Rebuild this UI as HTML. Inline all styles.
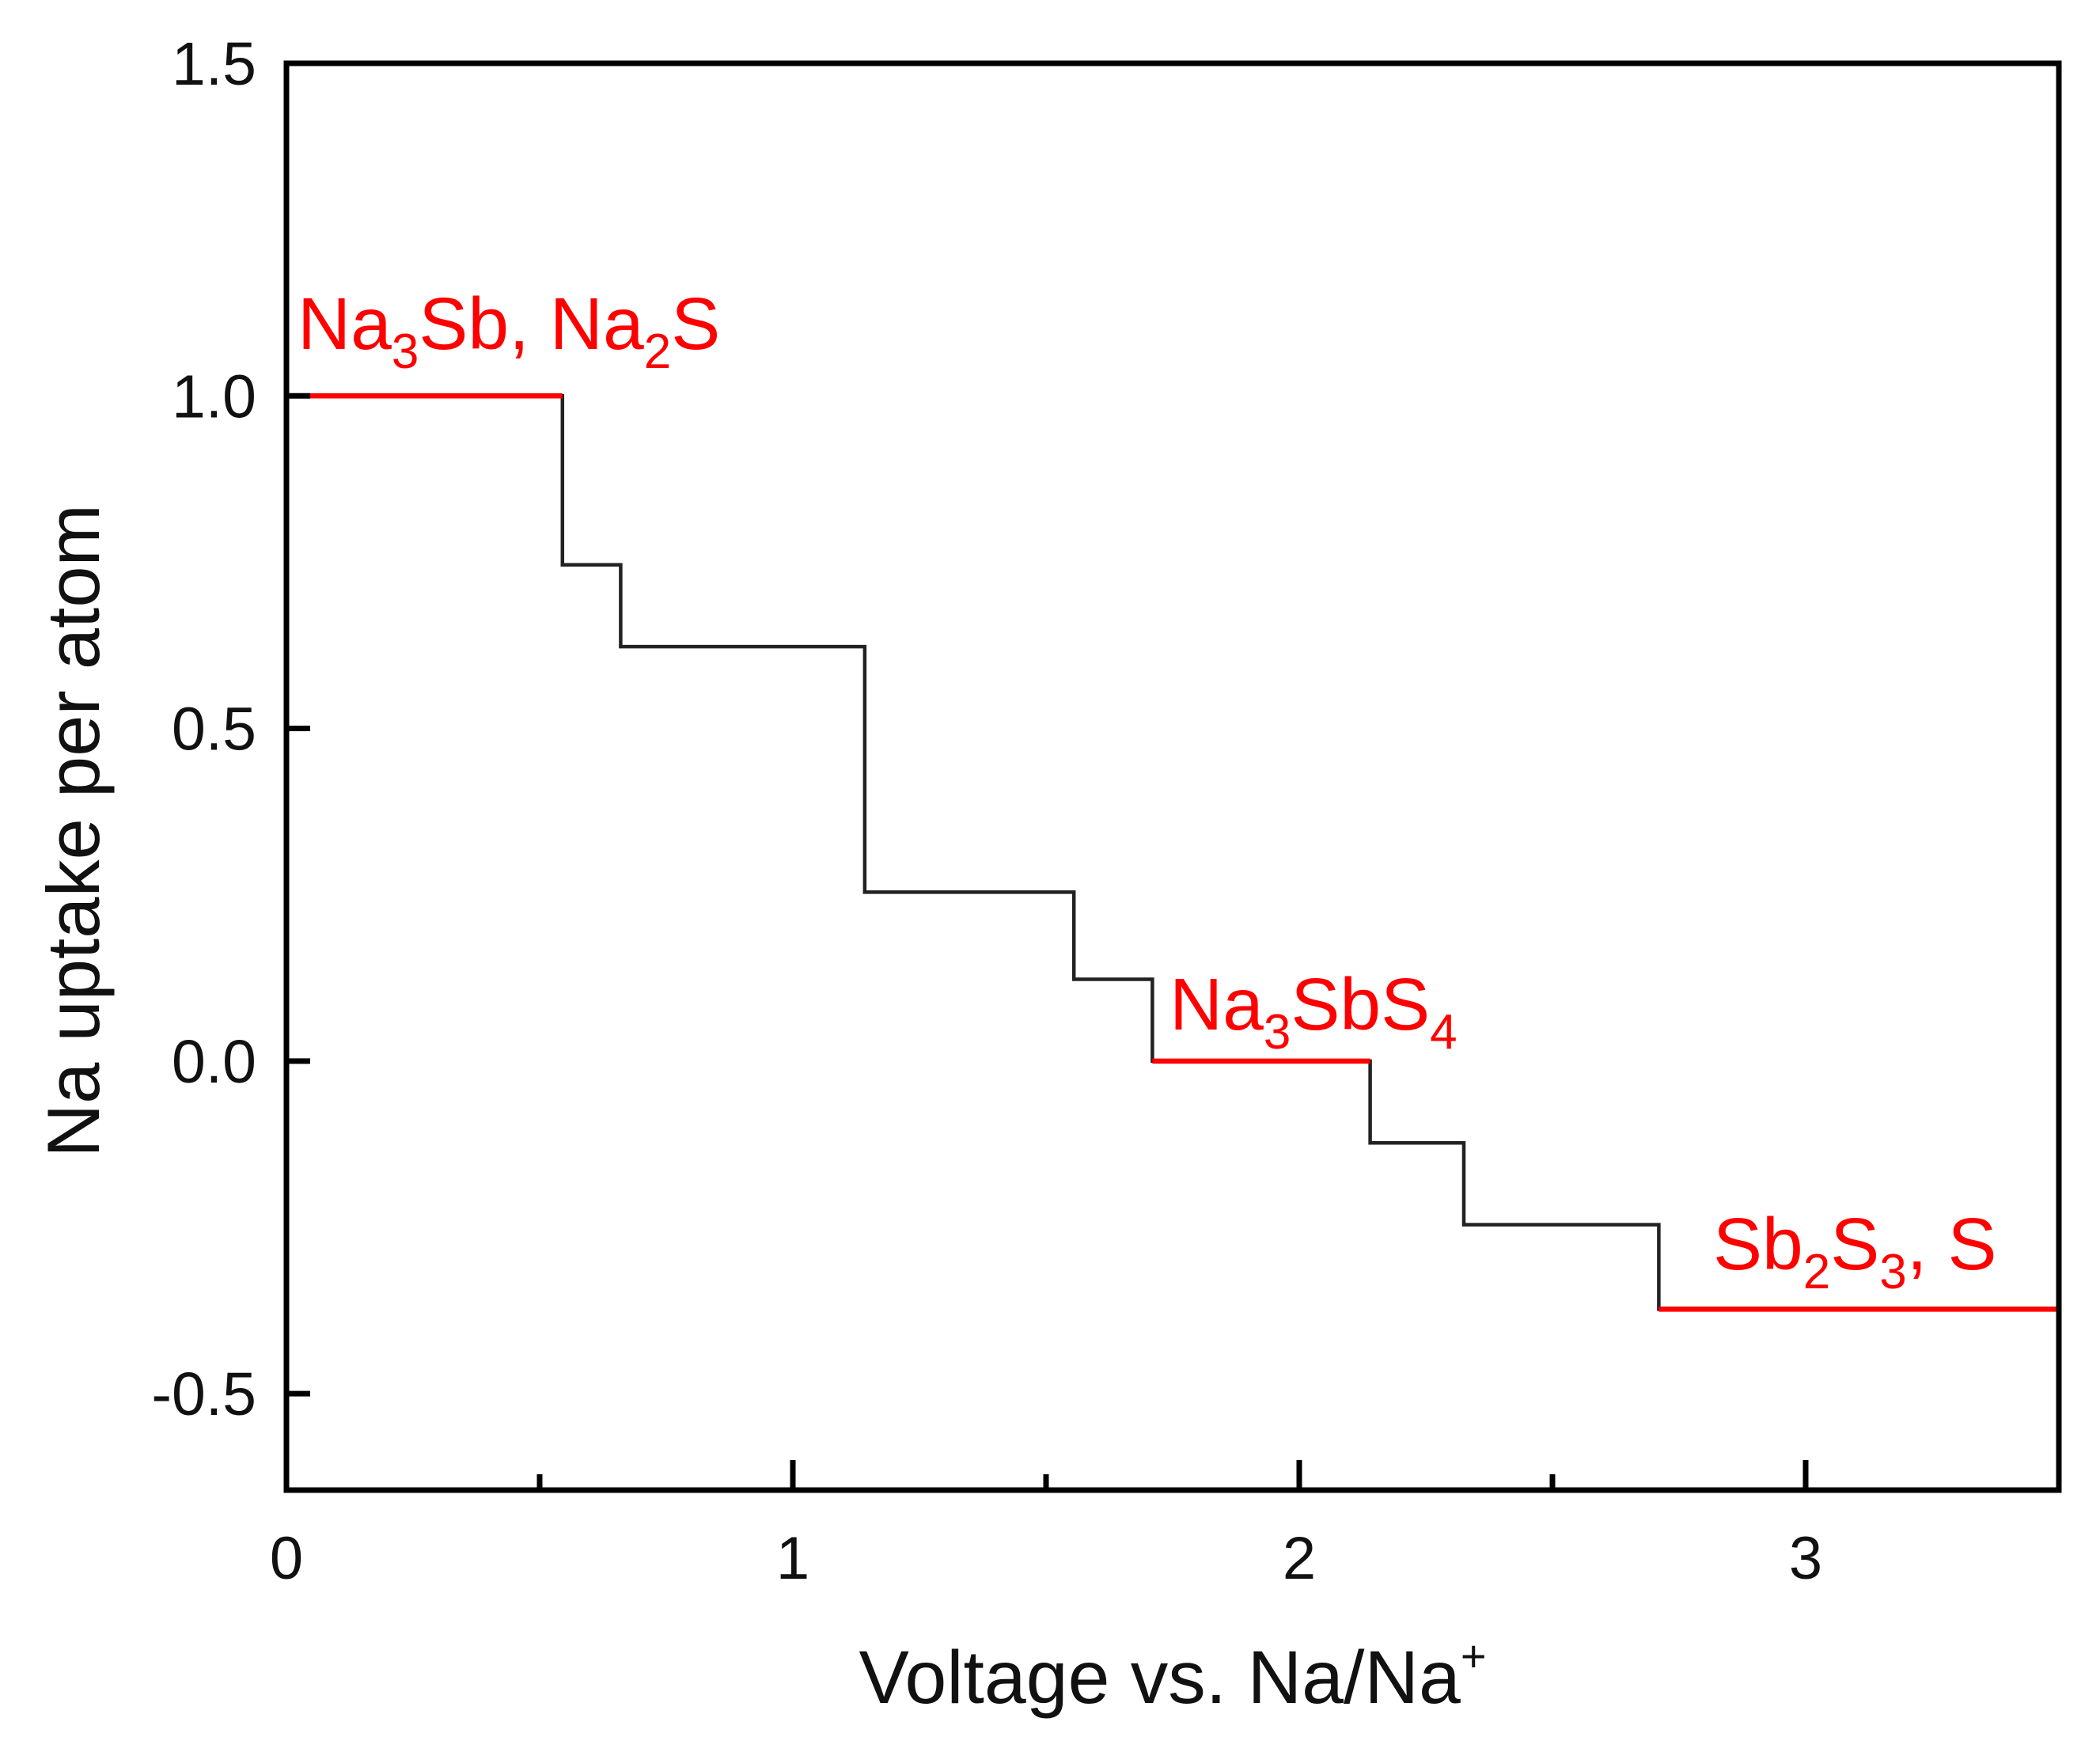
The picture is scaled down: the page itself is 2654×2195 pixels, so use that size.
<!DOCTYPE html>
<html><head><meta charset="utf-8"><style>
html,body{margin:0;padding:0;background:#fff}
svg{display:block}
text{font-family:"Liberation Sans",Arial,sans-serif}
</style></head><body>
<svg id="chart" width="2654" height="2195" viewBox="0 0 2654 2195" xmlns="http://www.w3.org/2000/svg">
<g id="plot"></g>
<text x="1482" y="2152" font-size="95" text-anchor="middle" fill="#111">Voltage vs. Na/Na<tspan dy="-40" font-size="56">+</tspan></text>
<text transform="translate(125,1050) rotate(-90)" font-size="94" text-anchor="middle" fill="#111">Na uptake per atom</text>
<text x="376" y="441" font-size="93" fill="#f00">Na<tspan dy="24" font-size="62">3</tspan><tspan dy="-24">Sb, Na</tspan><tspan dy="24" font-size="62">2</tspan><tspan dy="-24">S</tspan></text>
<text x="1478" y="1301" font-size="93" fill="#f00">Na<tspan dy="24" font-size="62">3</tspan><tspan dy="-24">SbS</tspan><tspan dy="24" font-size="62">4</tspan></text>
<text x="2165" y="1604" font-size="93" fill="#f00">Sb<tspan dy="24" font-size="62">2</tspan><tspan dy="-24">S</tspan><tspan dy="24" font-size="62">3</tspan><tspan dy="-24">, S</tspan></text>
</svg>
<script>
const stepVoltages = [0, 0.545, 0.66, 1.142, 1.555, 1.71, 2.14, 2.325, 2.71, 3.5];
const stepUptake = [1.0, 0.746, 0.623, 0.254, 0.123, 0.0, -0.123, -0.246, -0.373];
const redSegments = [0, 5, 8];
const xTicks = [0, 1, 2, 3];
const xMinorTicks = [0.5, 1.5, 2.5];
const yTicks = [-0.5, 0.0, 0.5, 1.0, 1.5];
const yTickLabels = ["-0.5", "0.0", "0.5", "1.0", "1.5"];

const L=362, R=2602, T=80, B=1883;
const xMin=0, xMax=3.5, yMin=-0.645, yMax=1.5;
const xs = v => L + (v - xMin) / (xMax - xMin) * (R - L);
const ys = v => B - (v - yMin) / (yMax - yMin) * (B - T);
const NS="http://www.w3.org/2000/svg";
const g=document.getElementById('plot');
function mk(tag, attrs){const e=document.createElementNS(NS,tag);for(const k in attrs)e.setAttribute(k,attrs[k]);g.appendChild(e);return e;}

let d='';
for(let i=0;i<stepUptake.length;i++){
  const x0=xs(stepVoltages[i]), x1=xs(stepVoltages[i+1]), y=ys(stepUptake[i]);
  d += (i===0?'M':'L')+x0+','+y+' L'+x1+','+y;
  if(i<stepUptake.length-1) d+=' L'+x1+','+ys(stepUptake[i+1])+' ';
}
const sp=mk('path',{d:d,fill:'none',stroke:'#222','stroke-width':4.5});


redSegments.forEach(i=>{
  const ln=mk('line',{x1:xs(stepVoltages[i]),x2:xs(stepVoltages[i+1]),y1:ys(stepUptake[i]),y2:ys(stepUptake[i]),stroke:'#f00','stroke-width':6.5});
  
  
});
const fr=mk('rect',{x:L,y:T,width:R-L,height:B-T,fill:'none',stroke:'#000','stroke-width':7});


xTicks.forEach(v=>{
  const t=mk('line',{x1:xs(v),x2:xs(v),y1:B,y2:B-38,stroke:'#000','stroke-width':7});
  
  
  const lb=mk('text',{x:xs(v),y:B+112,'font-size':76,'text-anchor':'middle',fill:'#111'});
  lb.textContent=String(v);
  
  
});
xMinorTicks.forEach(v=>{
  const t=mk('line',{x1:xs(v),x2:xs(v),y1:B,y2:B-20,stroke:'#000','stroke-width':7});
  
  
});
yTicks.forEach((v,i)=>{
  const t=mk('line',{x1:L,x2:L+30,y1:ys(v),y2:ys(v),stroke:'#000','stroke-width':7});
  
  
  const lb=mk('text',{x:L-38,y:ys(v)+27,'font-size':77,'text-anchor':'end',fill:'#111'});
  lb.textContent=yTickLabels[i];
  
  
});
</script>
</body></html>
